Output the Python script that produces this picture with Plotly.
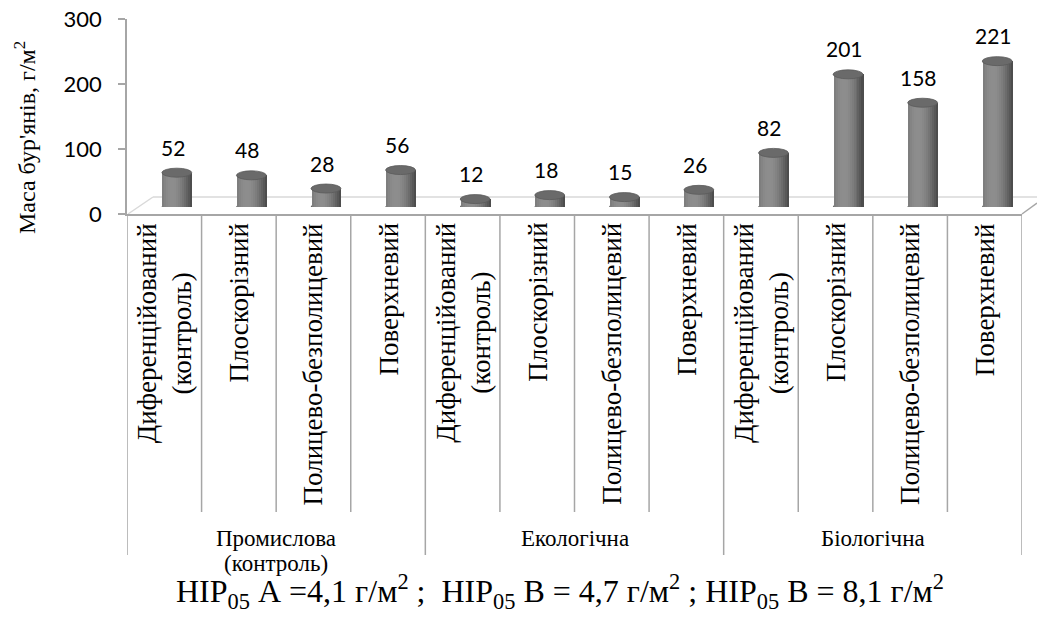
import math
import plotly.graph_objects as go

# ---- data ----
systems = ["Промислова<br>(контроль)", "Екологічна", "Біологічна"]
tillage = [
    "Диференційований<br>(контроль)",
    "Плоскорізний",
    "Полицево-безполицевий",
    "Поверхневий",
]
weed_mass = [52, 48, 28, 56, 12, 18, 15, 26, 82, 201, 158, 221]
y_ticks = [0, 100, 200, 300]
y_title = "Маса бур'янів, г/м<sup>2</sup>"
lsd_note = ("НІР<sub>05</sub> А =4,1 г/м<sup>2</sup> ;  НІР<sub>05</sub> В = 4,7 г/м<sup>2</sup> ; "
            "НІР<sub>05</sub> В = 8,1 г/м<sup>2</sup>")

categories = [t for _ in systems for t in tillage]
n = len(categories)
xs = list(range(n))

# ---- page geometry (pixels) ----
W, H = 1037, 622


def px(x):
    return x / W


def py(y):
    return 1 - y / H


SERIF = "Times New Roman, Liberation Serif, serif"
SANS = "Lato"
GRID = "#a6a6a6"

fig = go.Figure()

# cylinder bodies: vertical strips with cylindrical shading
bar_w = 0.40
strips = 15
for k in range(strips):
    t = (k + 0.5) / strips
    light = math.cos((t - 0.33) * math.pi / 1.45)
    g = int(62 + 80 * max(0.0, light))
    fig.add_trace(go.Bar(
        x=xs, y=weed_mass, xaxis="x2", yaxis="y2",
        offset=-bar_w / 2 + k * bar_w / strips,
        width=bar_w / strips * 1.02,
        marker=dict(color=f"rgb({g},{g},{g})", line=dict(width=0)),
        hoverinfo="skip", showlegend=False,
    ))

# helper trace so the category axis draws
fig.add_trace(go.Scatter(x=xs, y=[None] * n, xaxis="x", yaxis="y",
                         mode="markers", showlegend=False, hoverinfo="skip"))

shapes = []
annotations = []

# elliptical caps and rounded bottoms of the cylinders
px_per_unit = (207 - 9) / 300
cap = 4.5 / px_per_unit
for i, v in zip(xs, weed_mass):
    shapes.append(dict(type="circle", xref="x2", yref="y2",
                       x0=i - bar_w / 2, x1=i + bar_w / 2,
                       y0=-cap, y1=cap, fillcolor="#5e5e5e",
                       line=dict(color="#555555", width=0.5), layer="below"))
    shapes.append(dict(type="circle", xref="x2", yref="y2",
                       x0=i - bar_w / 2, x1=i + bar_w / 2,
                       y0=v - cap, y1=v + cap, fillcolor="#6a6a6a",
                       line=dict(color="#5a5a5a", width=0.8), layer="above"))
    annotations.append(dict(x=i, y=v, xref="x2", yref="y2", text=str(v),
                            showarrow=False, yanchor="bottom", xanchor="center",
                            xshift=-4, yshift=11,
                            font=dict(family=SANS, size=21, color="#000")))

# 3-D floor outline
shapes += [
    dict(type="line", xref="paper", yref="paper", x0=px(128), y0=py(214), x1=px(153), y1=py(197),
         line=dict(color="#d9d9d9", width=1.5), layer="below"),
    dict(type="line", xref="paper", yref="paper", x0=px(153), y0=py(197), x1=px(1037), y1=py(197),
         line=dict(color="#d9d9d9", width=1.5), layer="below"),
    dict(type="line", xref="paper", yref="paper", x0=px(1022), y0=py(214), x1=px(1037), y1=py(203),
         line=dict(color=GRID, width=1.5)),
]

# category table separators
for b in range(n + 1):
    group_edge = b % len(tillage) == 0
    shapes.append(dict(type="line", xref="x", yref="paper", x0=b - 0.5, x1=b - 0.5,
                       y0=py(214), y1=py(555 if group_edge else 512),
                       line=dict(color=GRID, width=1.5)))

# rotated tillage labels
for i, lab in enumerate(categories):
    annotations.append(dict(x=i, y=py(221), xref="x", yref="paper", text=lab,
                            textangle=-90, showarrow=False, yanchor="top", xanchor="center",
                            align="center", font=dict(family=SERIF, size=27, color="#000")))

# system group labels, one annotation per line for tight leading
for g, lab in enumerate(systems):
    c = g * len(tillage) + (len(tillage) - 1) / 2
    for j, line in enumerate(lab.split("<br>")):
        annotations.append(dict(x=c, y=py(538 + 25 * j), xref="x", yref="paper", text=line,
                                showarrow=False, yanchor="middle", xanchor="center",
                                font=dict(family=SERIF, size=23, color="#000")))

# axis title and LSD note
annotations.append(dict(x=px(25), y=py(138), xref="paper", yref="paper", text=y_title,
                        textangle=-90, showarrow=False, xanchor="center", yanchor="middle",
                        font=dict(family=SERIF, size=24, color="#000")))
annotations.append(dict(x=px(560), y=py(591), xref="paper", yref="paper", text=lsd_note,
                        showarrow=False, xanchor="center", yanchor="middle",
                        font=dict(family=SERIF, size=32, color="#000")))

fig.update_layout(
    width=W, height=H,
    margin=dict(l=0, r=0, t=0, b=0, autoexpand=False),
    paper_bgcolor="white", plot_bgcolor="rgba(0,0,0,0)",
    barmode="overlay", bargap=0,
    xaxis=dict(domain=[px(127), px(1022)], range=[-0.5, n - 0.5], anchor="y",
               showline=True, linecolor=GRID, linewidth=1.5, showgrid=False,
               zeroline=False, showticklabels=False, ticks="", automargin=False),
    yaxis=dict(domain=[py(214), py(19)], range=[0, 300], anchor="x",
               tickvals=y_ticks, showline=True, linecolor=GRID, linewidth=1.5,
               ticks="outside", ticklen=7, tickcolor=GRID, tickwidth=1.5,
               ticklabelstandoff=12, showgrid=False, zeroline=False, automargin=False,
               tickfont=dict(family=SANS, size=22, color="#000")),
    xaxis2=dict(domain=[px(139.5), px(1034.5)], range=[-0.5, n - 0.5], anchor="y2",
                visible=False, automargin=False),
    yaxis2=dict(domain=[py(207), py(9)], range=[0, 300], anchor="x2", visible=False,
                automargin=False),
    shapes=shapes,
    annotations=annotations,
)

fig.write_html("out.html")
